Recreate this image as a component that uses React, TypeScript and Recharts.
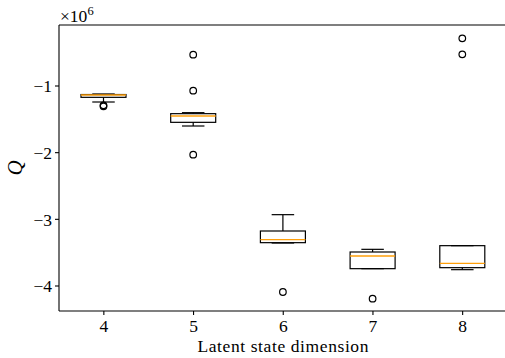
import React from 'react';
import { ComposedChart, Bar, XAxis, YAxis, Label } from 'recharts';

const categories = ['4', '5', '6', '7', '8'];
const whiskerLow = [-1.24, -1.6, -3.355, -3.74, -3.755];
const quartile1 = [-1.17, -1.545, -3.35, -3.74, -3.725];
const medians = [-1.135, -1.45, -3.305, -3.55, -3.66];
const quartile3 = [-1.128, -1.415, -3.175, -3.49, -3.395];
const whiskerHigh = [-1.12, -1.4, -2.93, -3.45, -3.395];
const outliers = [
  [-1.29, -1.305],
  [-0.53, -1.07, -2.03],
  [-4.09],
  [-4.19],
  [-0.285, -0.525],
];
const yTicks = [-4, -3, -2, -1];
const yDomain = [-4.375, -0.085];

const data = categories.map((c, i) => ({
  dim: c,
  range: [whiskerLow[i], whiskerHigh[i]],
  lo: whiskerLow[i],
  hi: whiskerHigh[i],
  q1: quartile1[i],
  med: medians[i],
  q3: quartile3[i],
  out: outliers[i],
}));

const FONT = '"Liberation Serif", "DejaVu Serif", serif';
const LW = 1.2;
const TOP = 25;

function BoxShape(props: any) {
  const { x, y, width, height, payload } = props;
  const top = Math.min(y, y + height);
  const h = Math.abs(height);
  const { hi, lo, q1, q3, med, out } = payload;
  const k = h / (hi - lo);
  const py = (v: number) => top + (hi - v) * k;
  const cx = x + width / 2;
  const cap = width / 4;
  return (
    <g>
      <line x1={cx} x2={cx} y1={py(hi)} y2={py(q3)} stroke="#000" strokeWidth={LW} />
      <line x1={cx} x2={cx} y1={py(q1)} y2={py(lo)} stroke="#000" strokeWidth={LW} />
      <line x1={cx - cap} x2={cx + cap} y1={py(hi)} y2={py(hi)} stroke="#000" strokeWidth={LW} />
      <line x1={cx - cap} x2={cx + cap} y1={py(lo)} y2={py(lo)} stroke="#000" strokeWidth={LW} />
      <rect x={x} y={py(q3)} width={width} height={Math.max(py(q1) - py(q3), 0.5)} fill="none" stroke="#000" strokeWidth={LW} />
      <line x1={x} x2={x + width} y1={py(med)} y2={py(med)} stroke="#ff9f0a" strokeWidth={1.4} />
      {out.map((v: number, j: number) => (
        <circle key={j} cx={cx} cy={py(v)} r={3.3} fill="none" stroke="#000" strokeWidth={LW} />
      ))}
    </g>
  );
}

const fmtY = (v: number) => (v < 0 ? '\u2212' + Math.abs(v) : String(v));

export default function App() {
  return (
    <div style={{ position: 'absolute', left: 0, top: 0, width: 505, height: 358, overflow: 'hidden', background: '#fff' }}>
      <ComposedChart
        width={508}
        height={358}
        data={data}
        margin={{ top: TOP, right: 0.5, bottom: 0, left: 0 }}
      >
        <XAxis
          dataKey="dim"
          height={47}
          tickSize={4}
          tickMargin={5}
          axisLine={{ stroke: '#000', strokeWidth: 1.1 }}
          tickLine={{ stroke: '#000', strokeWidth: 1.1 }}
          tick={{ fill: '#000', fontSize: 17.5, fontFamily: FONT }}
        >
          <Label
            content={(p: any) => {
              const vb = p.viewBox || {};
              return (
                <g>
                  <line x1={vb.x} x2={vb.x + vb.width} y1={TOP} y2={TOP} stroke="#000" strokeWidth={1.1} />
                  <text
                    x={vb.x + vb.width / 2}
                    y={352}
                    textAnchor="middle"
                    fontSize={17.5}
                    fontFamily={FONT}
                    fill="#000"
                    letterSpacing={0.6}
                  >
                    Latent state dimension
                  </text>
                </g>
              );
            }}
          />
        </XAxis>
        <YAxis
          type="number"
          width={59}
          domain={yDomain}
          allowDataOverflow
          ticks={yTicks}
          tickFormatter={fmtY}
          tickSize={4}
          tickMargin={3}
          axisLine={{ stroke: '#000', strokeWidth: 1.1 }}
          tickLine={{ stroke: '#000', strokeWidth: 1.1 }}
          tick={{ fill: '#000', fontSize: 17.5, fontFamily: FONT }}
        >
          <Label
            content={(p: any) => {
              const vb = p.viewBox || {};
              const cy = vb.y + vb.height / 2;
              return (
                <g>
                  <text
                    x={14.5}
                    y={cy}
                    transform={`rotate(-90 14.5 ${cy})`}
                    textAnchor="middle"
                    dominantBaseline="central"
                    fontSize={21}
                    fontStyle="italic"
                    fontFamily={FONT}
                    fill="#000"
                  >
                    Q
                  </text>
                  <text x={60} y={22} fontSize={17.5} fontFamily={FONT} fill="#000">
                    ×10
                    <tspan dy={-7} fontSize={12.5}>6</tspan>
                  </text>
                </g>
              );
            }}
          />
        </YAxis>
        <Bar dataKey="range" barSize={45} shape={BoxShape} isAnimationActive={false} />
      </ComposedChart>
    </div>
  );
}
